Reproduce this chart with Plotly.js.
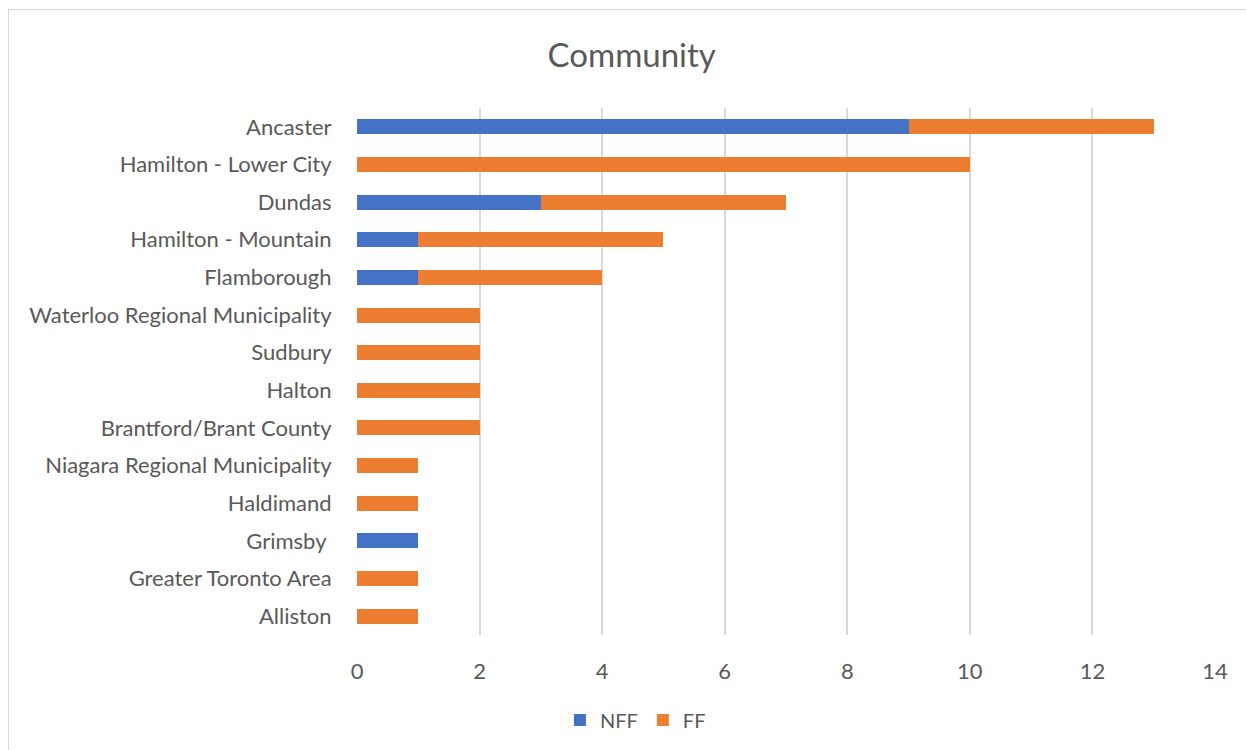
<!DOCTYPE html>
<html>
<head>
<meta charset="utf-8">
<script src="https://cdn.plot.ly/plotly-3.0.1.min.js"></script>
<style>
html,body{margin:0;padding:0;background:#fff;overflow:hidden;}
#frame{position:absolute;left:8px;top:9px;width:1300px;height:800px;border:1px solid #d9d9d9;box-sizing:border-box;}
#chart{position:absolute;left:0;top:0;width:1246px;height:750px;}
</style>
</head>
<body>
<div id="frame"></div>
<div id="chart"></div>
<script>
const categories = ["Ancaster","Hamilton - Lower City","Dundas","Hamilton - Mountain","Flamborough","Waterloo Regional Municipality","Sudbury","Halton","Brantford/Brant County","Niagara Regional Municipality","Haldimand","Grimsby ","Greater Toronto Area","Alliston"];
const nff = [9,0,3,1,1,0,0,0,0,0,0,1,0,0];
const ff  = [4,10,4,4,3,2,2,2,2,1,1,0,1,1];
const xTicks = [0,2,4,6,8,10,12,14];

const font = "Lato, 'Open Sans', sans-serif";
const traces = [
  {type:'bar', orientation:'h', name:'NFF', y:categories, x:nff, width:0.4, marker:{color:'#4472C4'}},
  {type:'bar', orientation:'h', name:'FF', y:categories, x:ff, width:0.4, marker:{color:'#ED7D31'}}
];
const layout = {
  width:1246, height:750,
  paper_bgcolor:'rgba(0,0,0,0)', plot_bgcolor:'rgba(0,0,0,0)',
  barmode:'stack',
  margin:{l:357, r:31, t:108, b:115},
  font:{family:font, color:'#595959', size:22},
  title:{text:'Community', font:{family:font, size:33, color:'#595959'}, xref:'container', x:0.507, xanchor:'center', yref:'container', y:0.926, yanchor:'middle'},
  xaxis:{range:[0,14], tickvals:xTicks, showgrid:true, gridcolor:'#d9d9d9', gridwidth:2, zeroline:false, showline:false,
         ticks:'outside', ticklen:17, tickcolor:'rgba(0,0,0,0)', tickfont:{size:22, color:'#595959'}, fixedrange:true},
  yaxis:{autorange:'reversed', showgrid:false, zeroline:false, showline:false, ticks:'outside', ticklen:20, tickcolor:'rgba(0,0,0,0)',
         tickfont:{size:22, color:'#595959'}},
  showlegend:true,
  legend:{orientation:'h', xref:'container', yref:'container', x:0.51, xanchor:'center', y:0.04, yanchor:'middle', font:{size:20, color:'#595959'}, traceorder:'normal'}
};
Plotly.newPlot('chart', traces, layout, {displayModeBar:false, staticPlot:true});
</script>
</body>
</html>
